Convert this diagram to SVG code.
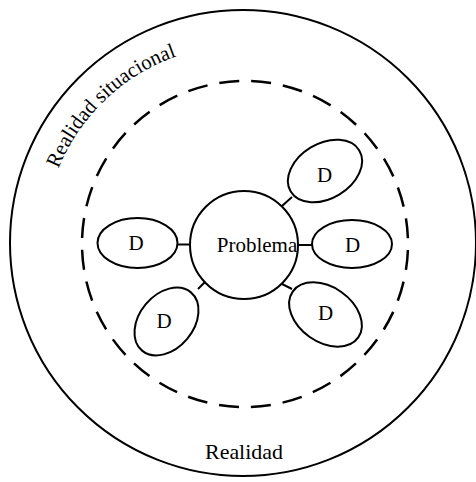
<svg xmlns="http://www.w3.org/2000/svg" width="476" height="482" viewBox="0 0 476 482">
<style>
.ln{fill:none;stroke:#000;stroke-width:2}
.dash{fill:none;stroke:#000;stroke-width:2.5;stroke-dasharray:20 12;stroke-dashoffset:26}
.t{font-family:"Liberation Serif","Times New Roman",serif;fill:#000;font-size:21px}
.c{text-anchor:middle}
</style>
<defs>
<path id="arc" d="M58.4,168.8 A199,199 0 0 1 207.6,48"/>
</defs>
<rect width="476" height="482" fill="#fff"/>
<g id="realidad">
<circle class="ln" cx="243" cy="243" r="233" stroke-width="2.5"/>
<text class="t" font-size="20" x="244" y="459" text-anchor="middle" textLength="78" lengthAdjust="spacingAndGlyphs">Realidad</text>
</g>
<g id="realidad-situacional">
<circle class="dash" cx="245" cy="244" r="163"/>
<text class="t" font-size="20"><textPath href="#arc" textLength="168" lengthAdjust="spacingAndGlyphs">Realidad situacional</textPath></text>
</g>
<g id="connectors">
<line class="ln" x1="177" y1="244.5" x2="190" y2="244.5"/>
<line class="ln" x1="298" y1="245" x2="312" y2="245"/>
<line class="ln" x1="282" y1="206" x2="292" y2="197"/>
<line class="ln" x1="198" y1="289" x2="205" y2="282"/>
<line class="ln" x1="282" y1="284" x2="292" y2="289"/>
</g>
<g id="problema">
<circle class="ln" cx="244" cy="245" r="54"/>
<text class="t c" x="257" y="252">Problema</text>
</g>
<g id="d-left">
<ellipse class="ln" cx="137.5" cy="243" rx="40" ry="25"/>
<text class="t c" x="136" y="250">D</text>
</g>
<g id="d-right">
<ellipse class="ln" cx="352" cy="244" rx="40" ry="24"/>
<text class="t c" x="352.5" y="251.5">D</text>
</g>
<g id="d-top-right">
<ellipse class="ln" cx="325" cy="171" rx="40" ry="27.5" transform="rotate(-31 325 171)"/>
<text class="t c" x="324.5" y="181.5">D</text>
</g>
<g id="d-bottom-left">
<ellipse class="ln" cx="166.5" cy="321.5" rx="38" ry="27" transform="rotate(-50 166.5 321.5)"/>
<text class="t c" x="164" y="328">D</text>
</g>
<g id="d-bottom-right">
<ellipse class="ln" cx="325.5" cy="314.5" rx="40" ry="27.5" transform="rotate(35 325.5 314.5)"/>
<text class="t c" x="325.5" y="320">D</text>
</g>
</svg>
